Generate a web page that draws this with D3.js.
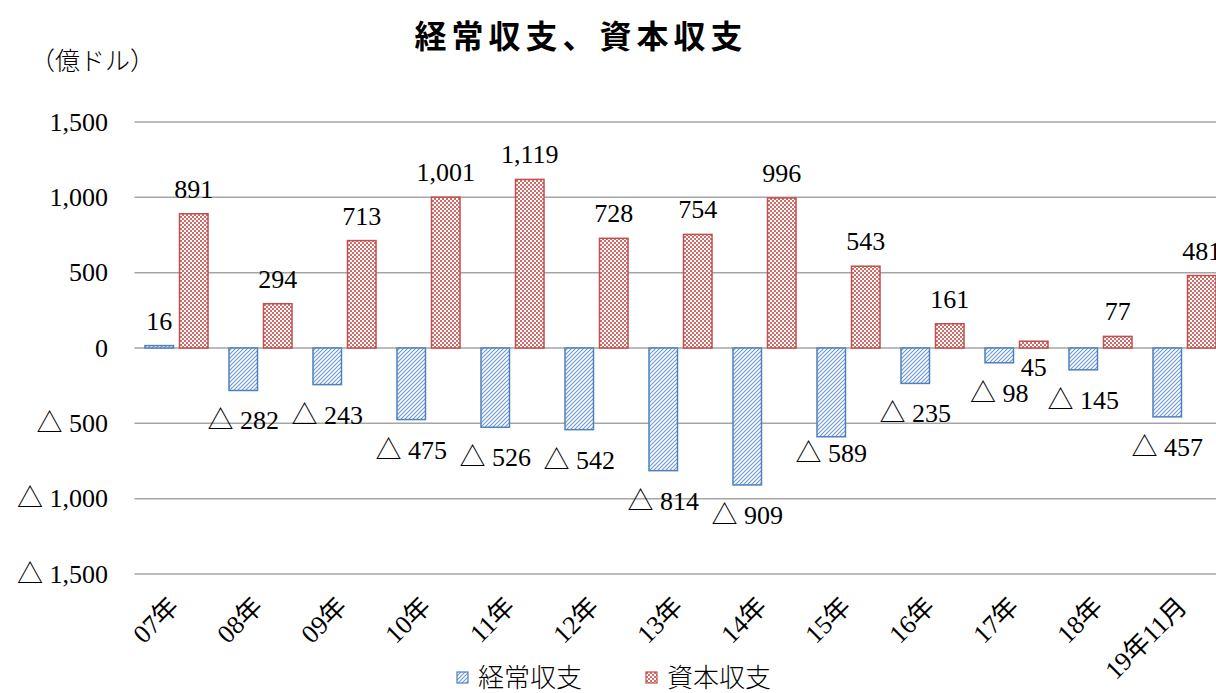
<!DOCTYPE html>
<html>
<head>
  <meta charset="utf-8">
  <title>経常収支、資本収支</title>
  <style>
    body { margin: 0; overflow: hidden; background: white; }
    .num { font-family: "Liberation Serif", "Noto Sans CJK JP", serif; }
    .jp { font-family: "Noto Sans CJK JP", sans-serif; }
  </style>
</head>
<body>
  <svg id="chart"></svg>
  <script src="https://cdn.jsdelivr.net/npm/d3@7"></script>
  <script>
    // データ（億ドル）
    var categories = ["07年", "08年", "09年", "10年", "11年", "12年", "13年", "14年", "15年", "16年", "17年", "18年", "19年11月"];
    var seriesNames = ["経常収支", "資本収支"];
    var currentAccount = [16, -282, -243, -475, -526, -542, -814, -909, -589, -235, -98, -145, -457];
    var capitalAccount = [891, 294, 713, 1001, 1119, 728, 754, 996, 543, 161, 45, 77, 481];
    var yTicks = [-1500, -1000, -500, 0, 500, 1000, 1500];

    var width = 1240, height = 693;
    var svg = d3.select("#chart").attr("width", width).attr("height", height);

    var blue = "#4F81BD", red = "#C0504D";

    // 塗りパターン
    var defs = svg.append("defs");
    var hatch = defs.append("pattern")
      .attr("id", "hatchBlue")
      .attr("patternUnits", "userSpaceOnUse")
      .attr("width", 4).attr("height", 4);
    hatch.append("rect").attr("width", 4).attr("height", 4).attr("fill", "white");
    hatch.append("path")
      .attr("d", "M-1,5 L5,-1 M-1,1 L1,-1 M3,5 L5,3")
      .attr("stroke", "#6A97D4").attr("stroke-width", 1.1);

    var check = defs.append("pattern")
      .attr("id", "checkRed")
      .attr("patternUnits", "userSpaceOnUse")
      .attr("width", 4).attr("height", 4);
    check.append("rect").attr("width", 4).attr("height", 4).attr("fill", "white");
    check.append("rect").attr("width", 2).attr("height", 2).attr("fill", "#D26A67");
    check.append("rect").attr("x", 2).attr("y", 2).attr("width", 2).attr("height", 2).attr("fill", "#D26A67");

    var fills = ["url(#hatchBlue)", "url(#checkRed)"];
    var strokes = [blue, red];

    var x = d3.scaleBand()
      .domain(categories)
      .range([134.5, 134.5 + 84 * categories.length]);
    var xSub = d3.scaleBand()
      .domain(seriesNames)
      .range([0, x.bandwidth()])
      .paddingInner(0.174)
      .paddingOuter(0.304);
    var y = d3.scaleLinear()
      .domain([-1500, 1500])
      .range([574, 122]);

    function fmt(v) {
      var s = d3.format(",")(Math.abs(v));
      return v < 0 ? "△ " + s : s;
    }

    // グリッド線
    svg.append("g").selectAll("line")
      .data(yTicks)
      .join("line")
      .attr("x1", 134.5).attr("x2", width)
      .attr("y1", d => y(d)).attr("y2", d => y(d))
      .attr("stroke", "#A5A5A5")
      .attr("stroke-width", 1.5);

    // Y軸ラベル
    var yAxis = d3.axisLeft(y).tickValues(yTicks).tickSize(0).tickPadding(0).tickFormat(fmt);
    var gy = svg.append("g")
      .attr("transform", "translate(108,0)")
      .call(yAxis);
    gy.select(".domain").remove();
    gy.selectAll("text")
      .attr("class", "num")
      .attr("font-size", 26)
      .attr("fill", "black");

    // 棒
    var seriesData = [currentAccount, capitalAccount];
    seriesData.forEach(function (vals, s) {
      svg.append("g").selectAll("rect")
        .data(vals)
        .join("rect")
        .attr("x", (d, i) => x(categories[i]) + xSub(seriesNames[s]))
        .attr("y", d => y(Math.max(0, d)))
        .attr("width", xSub.bandwidth())
        .attr("height", d => Math.abs(y(d) - y(0)))
        .attr("fill", fills[s])
        .attr("stroke", strokes[s])
        .attr("stroke-width", 1.5);
    });

    // データラベル
    seriesData.forEach(function (vals, s) {
      svg.append("g").selectAll("text")
        .data(vals)
        .join("text")
        .attr("class", "num")
        .attr("font-size", 26)
        .attr("text-anchor", "middle")
        .attr("x", (d, i) => x(categories[i]) + xSub(seriesNames[s]) + xSub.bandwidth() / 2)
        .attr("y", function (d, i) {
          if (s === 1 && i === 10) return y(0) + 28; // 45は軸の下に
          if (s === 0 && i === 8) return y(d) + 25;  // 589は少し上に
          return d >= 0 ? y(d) - 16 : y(d) + 39;
        })
        .text(d => fmt(d));
    });

    // X軸ラベル
    svg.append("g").selectAll("text")
      .data(categories)
      .join("text")
      .attr("class", "num")
      .attr("font-size", 26)
      .attr("text-anchor", "end")
      .attr("transform", d => "translate(" + (x(d) + x.bandwidth() / 2 + 4) + ",608) rotate(-45)")
      .text(d => d);

    // タイトル
    svg.append("text")
      .attr("class", "jp")
      .attr("x", 581).attr("y", 48)
      .attr("text-anchor", "middle")
      .attr("font-size", 32)
      .attr("font-weight", "bold")
      .attr("letter-spacing", 5)
      .text("経常収支、資本収支");

    svg.append("text")
      .attr("class", "jp")
      .attr("x", 30).attr("y", 70)
      .attr("font-size", 25)
      .attr("font-weight", 300)
      .text("（億ドル）");

    // 凡例
    var legendX = [457, 646];
    var legend = svg.append("g").selectAll("g")
      .data(seriesNames)
      .join("g")
      .attr("transform", (d, i) => "translate(" + legendX[i] + ",672)");
    legend.append("rect")
      .attr("width", 11).attr("height", 11)
      .attr("fill", (d, i) => fills[i])
      .attr("stroke", (d, i) => strokes[i])
      .attr("stroke-width", 1.2);
    legend.append("text")
      .attr("class", "jp")
      .attr("x", 21).attr("y", 15)
      .attr("font-size", 26)
      .attr("font-weight", 300)
      .text(d => d);
  </script>
</body>
</html>
